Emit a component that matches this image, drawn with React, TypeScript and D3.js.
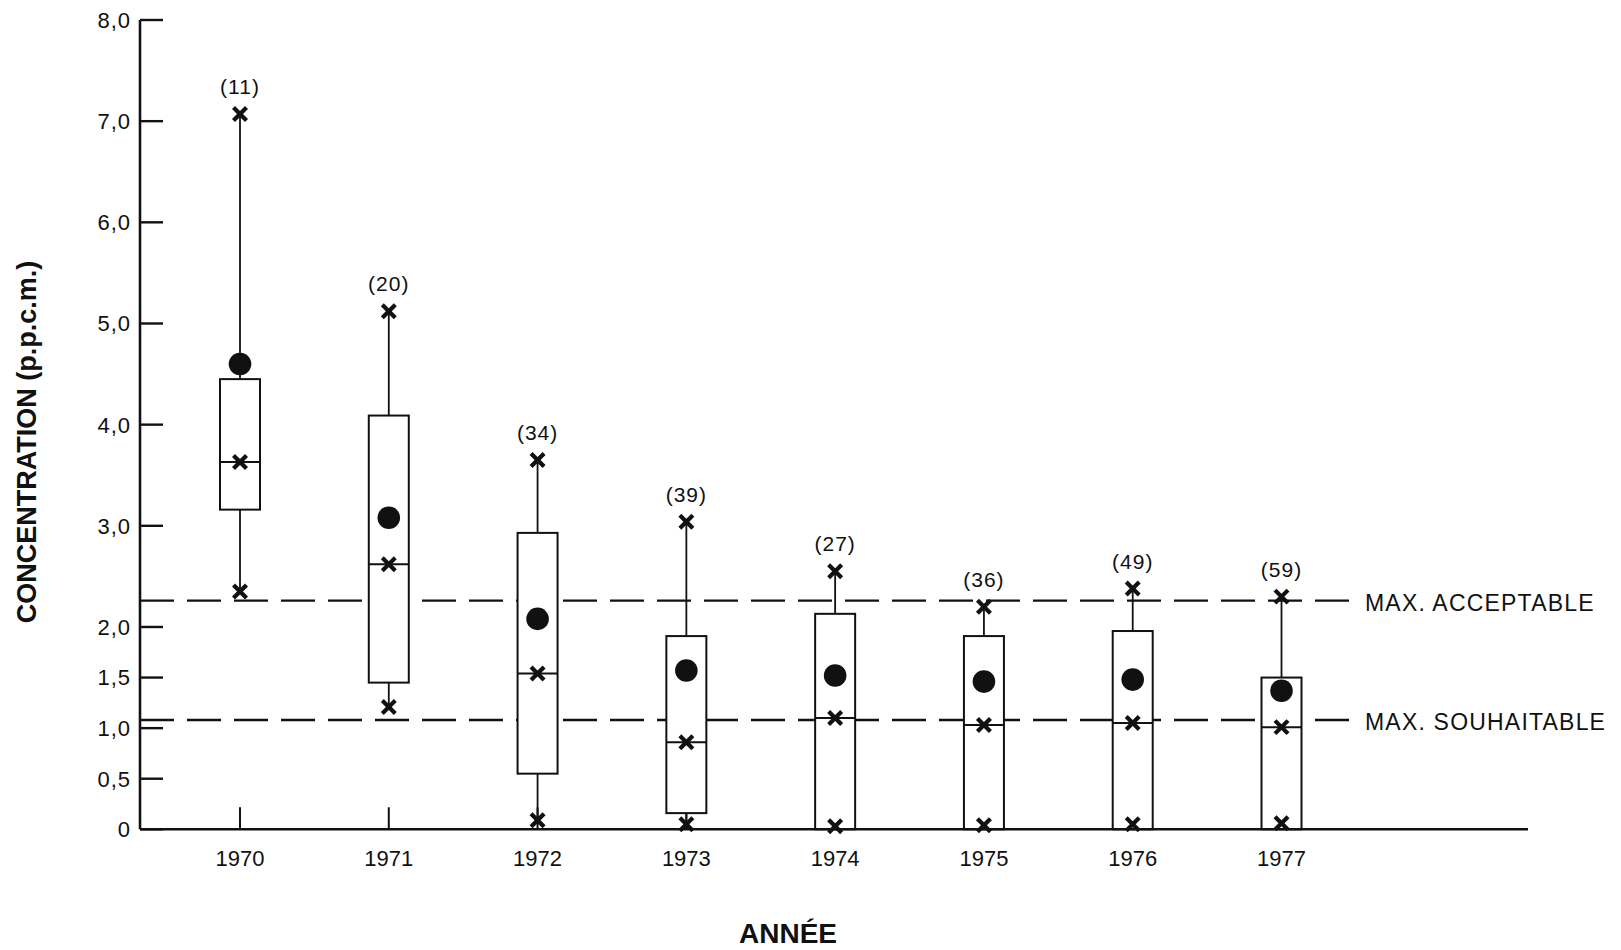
import React from "react";
import * as d3 from "d3";

// Yearly concentration summaries (p.p.c.m.)
const years = [1970, 1971, 1972, 1973, 1974, 1975, 1976, 1977];
const sampleCounts = [11, 20, 34, 39, 27, 36, 49, 59];
const maxValues = [7.07, 5.12, 3.65, 3.04, 2.55, 2.2, 2.38, 2.3];
const q3Values = [4.45, 4.09, 2.93, 1.91, 2.13, 1.91, 1.96, 1.5];
const medianValues = [3.63, 2.62, 1.54, 0.86, 1.1, 1.03, 1.05, 1.01];
const q1Values = [3.16, 1.45, 0.55, 0.16, 0, 0, 0, 0];
const minValues = [2.35, 1.21, 0.09, 0.05, 0.03, 0.04, 0.05, 0.06];
const meanValues = [4.6, 3.08, 2.08, 1.57, 1.52, 1.46, 1.48, 1.37];

const yTickValues = [0, 0.5, 1, 1.5, 2, 3, 4, 5, 6, 7, 8];

const limitLabels = ["MAX. ACCEPTABLE", "MAX. SOUHAITABLE"];
const limitValues = [2.26, 1.08];

const W = 1621;
const H = 950;
const FONT = "'Liberation Sans', Arial, Helvetica, sans-serif";
const INK = "#111";

const axisX = 140;
const axisEndX = 1528;
const limitEndX = 1349;
const boxW = 40;

const y = d3.scaleLinear().domain([0, 8]).range([829.3, 20]);
const x = d3.scaleLinear().domain([1970, 1977]).range([240, 1281.5]);

const fmtTick = (v: number) => (v === 0 ? "0" : d3.format(".1f")(v).replace(".", ","));

function Cross({ cx, cy }: { cx: number; cy: number }) {
  const s = 6.5;
  return (
    <g stroke={INK} strokeWidth={4.2} strokeLinecap="butt">
      <line x1={cx - s} y1={cy - s} x2={cx + s} y2={cy + s} />
      <line x1={cx - s} y1={cy + s} x2={cx + s} y2={cy - s} />
    </g>
  );
}

export default function App() {
  const y0 = y(0);
  const rows = years.map((yr, i) => ({
    yr,
    n: sampleCounts[i],
    max: maxValues[i],
    q3: q3Values[i],
    med: medianValues[i],
    q1: q1Values[i],
    min: minValues[i],
    mean: meanValues[i],
  }));

  return (
    <svg
      width={W}
      height={H}
      style={{ position: "absolute", left: 0, top: 0, background: "#fff" }}
      fontFamily={FONT}
    >
      <rect x={0} y={0} width={W} height={H} fill="#fff" />

      {/* guideline limits */}
      {limitValues.map((v, i) => (
        <g key={limitLabels[i]}>
          <line
            x1={axisX}
            x2={limitEndX}
            y1={y(v)}
            y2={y(v)}
            stroke={INK}
            strokeWidth={2.4}
            strokeDasharray="34 13"
          />
          <text
            x={1365}
            y={y(v) + 10}
            fontSize={23}
            letterSpacing={1.2}
            fill={INK}
          >
            {limitLabels[i]}
          </text>
        </g>
      ))}

      {/* year ticks */}
      {years.map((yr) => (
        <line
          key={"t" + yr}
          x1={x(yr)}
          x2={x(yr)}
          y1={y0}
          y2={y0 - 22}
          stroke={INK}
          strokeWidth={2}
        />
      ))}

      {/* box plots */}
      {rows.map((r) => {
        const cx = x(r.yr);
        return (
          <g key={r.yr}>
            <line x1={cx} x2={cx} y1={y(r.q3)} y2={y(r.max)} stroke={INK} strokeWidth={1.8} />
            {r.q1 > 0 && (
              <line x1={cx} x2={cx} y1={y(r.q1)} y2={y(r.min)} stroke={INK} strokeWidth={1.8} />
            )}
            <rect
              x={cx - boxW / 2}
              y={y(r.q3)}
              width={boxW}
              height={y(r.q1) - y(r.q3)}
              fill="#fff"
              stroke={INK}
              strokeWidth={2}
            />
            <line
              x1={cx - boxW / 2}
              x2={cx + boxW / 2}
              y1={y(r.med)}
              y2={y(r.med)}
              stroke={INK}
              strokeWidth={2}
            />
            <Cross cx={cx} cy={y(r.max)} />
            <Cross cx={cx} cy={y(r.med)} />
            <Cross cx={cx} cy={y(r.min)} />
            <circle cx={cx} cy={y(r.mean)} r={11.3} fill={INK} />
            <text
              x={cx}
              y={y(r.max) - 20}
              textAnchor="middle"
              fontSize={21}
              letterSpacing={1}
              fill={INK}
            >
              ({r.n})
            </text>
          </g>
        );
      })}

      {/* y axis */}
      <line x1={axisX} x2={axisX} y1={y(8)} y2={y0} stroke={INK} strokeWidth={2.6} />
      {yTickValues.map((v) => (
        <g key={"y" + v}>
          <line x1={axisX} x2={axisX + 23} y1={y(v)} y2={y(v)} stroke={INK} strokeWidth={2.4} />
          <text
            x={131}
            y={y(v)}
            dy="0.36em"
            textAnchor="end"
            fontSize={22}
            letterSpacing={1}
            fill={INK}
          >
            {fmtTick(v)}
          </text>
        </g>
      ))}

      {/* x axis */}
      <line x1={axisX} x2={axisEndX} y1={y0} y2={y0} stroke={INK} strokeWidth={2.6} />
      {years.map((yr) => (
        <text key={"l" + yr} x={x(yr)} y={866} textAnchor="middle" fontSize={22} fill={INK}>
          {yr}
        </text>
      ))}

      {/* axis titles */}
      <text
        transform={`translate(36,442) rotate(-90)`}
        textAnchor="middle"
        fontSize={27}
        fontWeight="bold"
        fill={INK}
      >
        CONCENTRATION (p.p.c.m.)
      </text>
      <text x={788} y={943} textAnchor="middle" fontSize={28} fontWeight="bold" fill={INK}>
        ANNÉE
      </text>
    </svg>
  );
}
